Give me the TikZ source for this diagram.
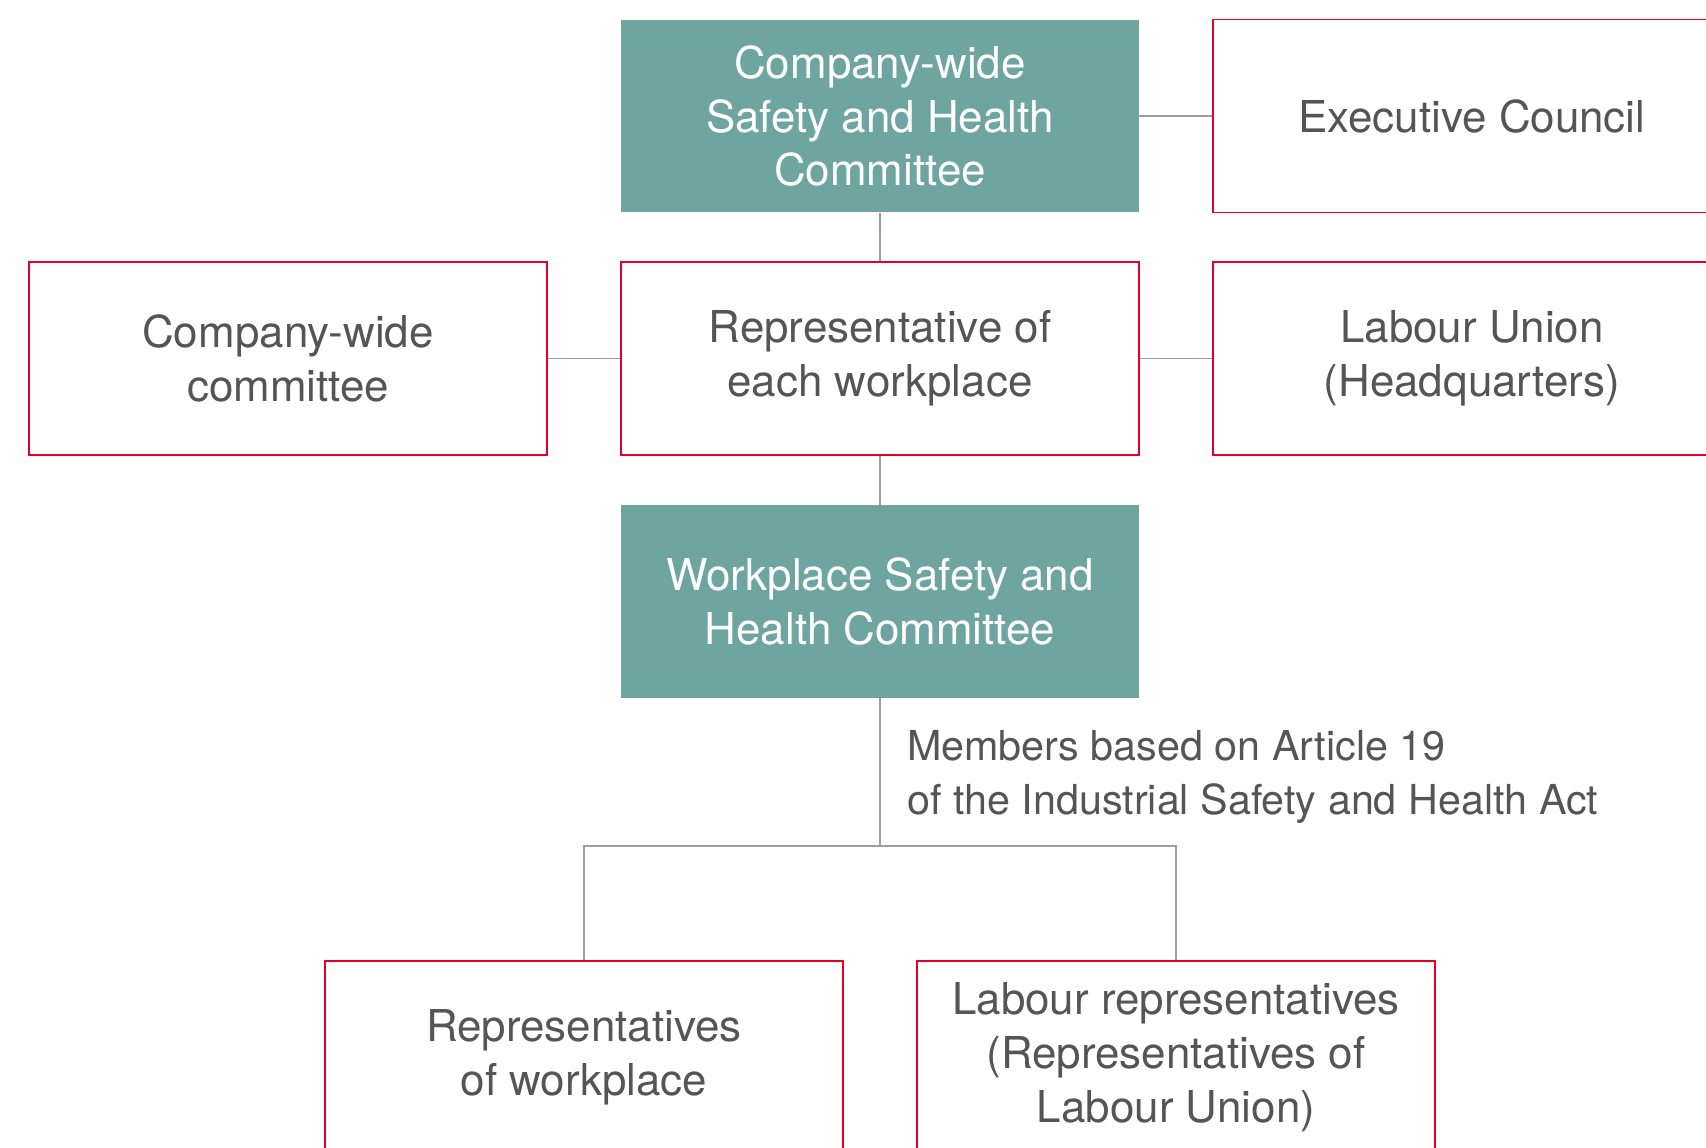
\documentclass[tikz,border=0pt]{standalone}
\usepackage{fontspec}
\setmainfont{TeX Gyre Heros}
\usetikzlibrary{calc}
\usepackage{xcolor}
\definecolor{boardteal}{HTML}{6FA5A0}
\definecolor{boardred}{HTML}{E5002B}
\definecolor{linegray}{HTML}{9E9E9E}
\definecolor{textgray}{HTML}{555555}

\begin{document}
\begin{tikzpicture}[x=0.02cm,y=-0.02cm,
  every node/.style={font=\fontsize{25}{30.7}\selectfont,align=center},
  board/.style={fill=boardteal,text=white,minimum width=10.36cm,minimum height=3.86cm,inner sep=0pt},
  member/.style={draw=boardred,line width=1.1pt,text=textgray,minimum width=10.36cm,minimum height=3.86cm,inner sep=0pt},
  link/.style={draw=linegray,line width=0.9pt}]
  \useasboundingbox (0,0) rectangle (1706,1148);
  % committees
  \node[board] (cwshc) at (880,116) {Company-wide\\Safety and Health\\Committee};
  \node[member] (exec) at (1472,116) {Executive Council};
  \node[member] (cwc) at (288,358.5) {Company-wide\\committee};
  \node[member] (rep) at (880,358.5) {Representative of\\each workplace};
  \node[member] (union) at (1472,358.5) {Labour Union\\(Headquarters)};
  \node[board] (wshc) at (880,601.5) {Workplace Safety and\\Health Committee};
  \node[member] (rws) at (584,1057.5) {Representatives\\of workplace};
  \node[member] (lrep) at (1176,1057.5) {Labour representatives\\(Representatives of\\Labour Union)};
  \node[anchor=west,align=left,text=textgray,font=\fontsize{23.5}{30.7}\selectfont] (note) at (901,777)
    {Members based on Article 19\\of the Industrial Safety and Health Act};
  \coordinate (split) at (880,846);
  % links
  \draw[link] (cwshc) -- (exec);
  \draw[link] (cwshc) -- (rep);
  \draw[link] (cwc) -- (rep);
  \draw[link] (rep) -- (union);
  \draw[link] (rep) -- (wshc);
  \draw[link] (wshc) -- (split);
  \draw[link] (split) -| (rws);
  \draw[link] (split) -| (lrep);
\end{tikzpicture}
\end{document}
